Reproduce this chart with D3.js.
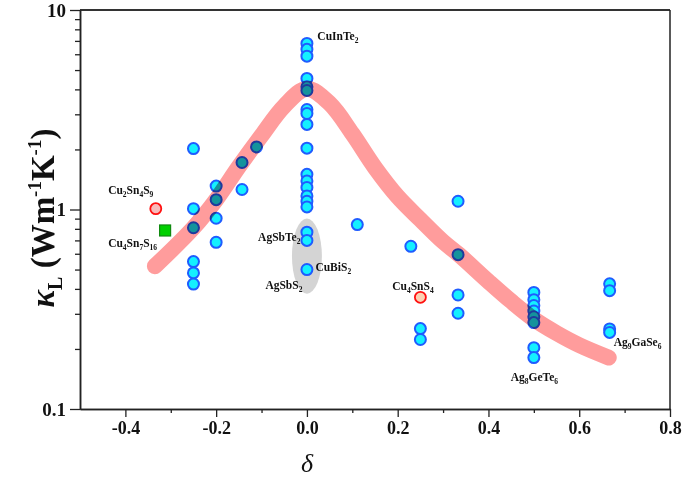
<!DOCTYPE html>
<html><head><meta charset="utf-8">
<script src="https://cdn.jsdelivr.net/npm/d3@7"></script>
<style>
html,body{margin:0;padding:0;background:#fff;}
svg{display:block;font-family:"Liberation Serif","Times New Roman",serif;}
</style></head>
<body><svg id="c" width="685" height="480"></svg>
<script>
// ---- data ----
const xTicks = [-0.4,-0.2,0.0,0.2,0.4,0.6,0.8];
const xTickLabels = ["-0.4","-0.2","0.0","0.2","0.4","0.6","0.8"];
const xMinorTicks = [-0.3,-0.1,0.1,0.3,0.5,0.7];
const yTicks = [0.1,1,10];
const yTickLabels = ["0.1","1","10"];
const yMinorTicks = [0.2,0.3,0.4,0.5,0.6,0.7,0.8,0.9,2,3,4,5,6,7,8,9];

// cyan points: [delta, kappa]
const cyanPoints = [
  [-0.25,2.02],[-0.25,1.01],[-0.25,0.81],[-0.25,0.548],[-0.25,0.481],[-0.25,0.423],
  [-0.2,1.31],[-0.2,1.12],[-0.2,0.904],[-0.2,0.685],
  [-0.143,1.72],[-0.143,1.26],
  [-0.111,2.06],
  [0,6.8],[0,6.35],[0,5.87],[0,4.54],[0,4.12],[0,3.95],[0,3.17],[0,3.03],[0,2.67],[0,2.03],
  [0,1.5],[0,1.39],[0,1.29],[0,1.17],[0,1.1],[0,1.03],[0,0.77],[0,0.70],[0,0.50],
  [0.111,0.84],
  [0.229,0.654],
  [0.25,0.253],[0.25,0.223],
  [0.333,1.10],[0.333,0.594],[0.333,0.373],[0.333,0.302],
  [0.5,0.384],[0.5,0.353],[0.5,0.33],[0.5,0.31],[0.5,0.29],[0.5,0.271],[0.5,0.203],[0.5,0.181],
  [0.667,0.424],[0.667,0.392],[0.667,0.252],[0.667,0.242]
];
const redPoints = [[-0.333,1.01],[0.25,0.363]];
const redFills = ["#f8baba","#fcd2b4"];
const greenSquares = [[-0.3125,0.785]];

// trend curve
const curveDelta = [-0.335,-0.25,-0.2,-0.15,-0.1,-0.05,0,0.05,0.1,0.15,0.2,0.25,0.3,0.335,0.4,0.45,0.5,0.55,0.6,0.665];
const curveKappa = [0.52,0.81,1.12,1.64,2.35,3.3,4.03,3.4,2.4,1.62,1.16,0.89,0.69,0.594,0.436,0.347,0.282,0.24,0.209,0.181];

// gray ellipse
const ellipseSpec = {cx:0, ky:0.584, kTop:0.9, kBottom:0.378, halfWidth:0.033};

// labels
const labels = [
  {parts:[["Cu",""],["2","sub"],["Sn",""],["4","sub"],["S",""],["9","sub"]], d:-0.438, k:1.20, anchor:"start"},
  {parts:[["Cu",""],["4","sub"],["Sn",""],["7","sub"],["S",""],["16","sub"]], d:-0.438, k:0.652, anchor:"start"},
  {parts:[["CuInTe",""],["2","sub"]], d:0.023, k:7.06, anchor:"start"},
  {parts:[["AgSbTe",""],["2","sub"]], d:-0.0143, k:0.699, anchor:"end"},
  {parts:[["CuBiS",""],["2","sub"]], d:0.0187, k:0.494, anchor:"start"},
  {parts:[["AgSbS",""],["2","sub"]], d:-0.0099, k:0.401, anchor:"end"},
  {parts:[["Cu",""],["4","sub"],["SnS",""],["4","sub"]], d:0.188, k:0.396, anchor:"start"},
  {parts:[["Ag",""],["8","sub"],["GeTe",""],["6","sub"]], d:0.449, k:0.138, anchor:"start"},
  {parts:[["Ag",""],["9","sub"],["GaSe",""],["6","sub"]], d:0.676, k:0.207, anchor:"start"}
];

// ---- drawing ----
const svg = d3.select("#c");
const L=80, R=670, T=10, B=409;
const x = d3.scaleLinear().domain([-0.5,0.8]).range([L,R]);
const y = d3.scaleLog().domain([0.1,10]).range([B,T]);

svg.append("ellipse")
  .attr("cx", x(ellipseSpec.cx))
  .attr("cy", y(ellipseSpec.ky))
  .attr("rx", x(ellipseSpec.halfWidth)-x(0))
  .attr("ry", (y(ellipseSpec.kBottom)-y(ellipseSpec.kTop))/2)
  .attr("fill","#d4d4d4");

svg.append("g").selectAll("circle").data(cyanPoints).join("circle")
  .attr("cx", d=>x(d[0])).attr("cy", d=>y(d[1])).attr("r",5.5)
  .attr("fill","#14f0ff").attr("stroke","#1f5cff").attr("stroke-width",2);

svg.append("g").selectAll("circle").data(redPoints).join("circle")
  .attr("cx", d=>x(d[0])).attr("cy", d=>y(d[1])).attr("r",5.5)
  .attr("fill",(d,i)=>redFills[i]).attr("stroke","#ff1010").attr("stroke-width",1.8);

svg.append("g").selectAll("rect").data(greenSquares).join("rect")
  .attr("x", d=>x(d[0])-5.5).attr("y", d=>y(d[1])-5.5).attr("width",11).attr("height",11)
  .attr("fill","#00d000").attr("stroke","#108a10").attr("stroke-width",1.2);

const curveData = curveDelta.map((d,i)=>[d,curveKappa[i]]);
svg.append("path").datum(curveData)
  .attr("d", d3.line().x(d=>x(d[0])).y(d=>y(d[1])).curve(d3.curveCatmullRom.alpha(0.5)))
  .attr("fill","none").attr("stroke","#ff9c9c").attr("stroke-width",16)
  .attr("stroke-linecap","round").attr("stroke-linejoin","round")
  .style("mix-blend-mode","multiply");

// frame
svg.append("line").attr("x1",L).attr("x2",R).attr("y1",T).attr("y2",T).attr("stroke","#333").attr("stroke-width",2);
svg.append("line").attr("x1",R).attr("x2",R).attr("y1",T).attr("y2",B).attr("stroke","#222").attr("stroke-width",1.5);

// axes
const xAxis = svg.append("g").attr("transform",`translate(0,${B})`)
  .call(d3.axisBottom(x).tickValues(xTicks).tickSize(8).tickSizeOuter(0).tickFormat((d,i)=>xTickLabels[i]));
const xMinor = svg.append("g").attr("transform",`translate(0,${B})`)
  .call(d3.axisBottom(x).tickValues(xMinorTicks).tickSize(4).tickSizeOuter(0).tickFormat(""));
const yAxis = svg.append("g").attr("transform",`translate(${L},0)`)
  .call(d3.axisLeft(y).tickValues(yTicks).tickSize(10).tickSizeOuter(0).tickFormat((d,i)=>yTickLabels[i]));
const yMinor = svg.append("g").attr("transform",`translate(${L},0)`)
  .call(d3.axisLeft(y).tickValues(yMinorTicks).tickSize(5).tickSizeOuter(0).tickFormat(""));
[xAxis,xMinor,yAxis,yMinor].forEach(g=>{
  g.selectAll(".domain").attr("stroke","#222").attr("stroke-width",1.5);
  g.selectAll(".tick line").attr("stroke","#222").attr("stroke-width",1.3);
});
xAxis.selectAll(".tick text").attr("font-family","Liberation Serif").attr("font-weight","bold")
  .attr("font-size",18).attr("fill","#111").attr("dy","0.9em").attr("y",9);
yAxis.selectAll(".tick text").attr("font-family","Liberation Serif").attr("font-weight","bold")
  .attr("font-size",19).attr("fill","#111").attr("x",-14).attr("dy","0.34em");

// labels
const lg = svg.append("g").attr("font-weight","bold").attr("font-size",11.5).attr("fill","#111");
labels.forEach(lb=>{
  const t = lg.append("text").attr("x",x(lb.d)).attr("y",y(lb.k)).attr("text-anchor",lb.anchor);
  lb.parts.forEach(p=>{
    const ts = t.append("tspan").text(p[0]);
    if(p[1]==="sub"){ ts.attr("font-size",7.5).attr("dy",3); }
    else { ts.attr("dy", t.selectAll("tspan").size()>1 ? -3 : 0); }
  });
});

// axis titles
svg.append("text").attr("x",307).attr("y",472).attr("text-anchor","middle")
  .attr("font-style","italic").attr("font-size",26).attr("fill","#111").text("δ");

const yt = svg.append("text").attr("transform","translate(54,218) rotate(-90)")
  .attr("text-anchor","middle").attr("font-weight","bold").attr("font-size",33).attr("fill","#111");
yt.append("tspan").attr("font-style","italic").text("κ");
yt.append("tspan").attr("font-size",20).attr("dy",8).text("L");
yt.append("tspan").attr("dy",-8).text(" (Wm");
yt.append("tspan").attr("font-size",19).attr("dy",-13).text("-1");
yt.append("tspan").attr("dy",13).text("K");
yt.append("tspan").attr("font-size",19).attr("dy",-13).text("-1");
yt.append("tspan").attr("dy",13).text(")");
</script></body></html>
